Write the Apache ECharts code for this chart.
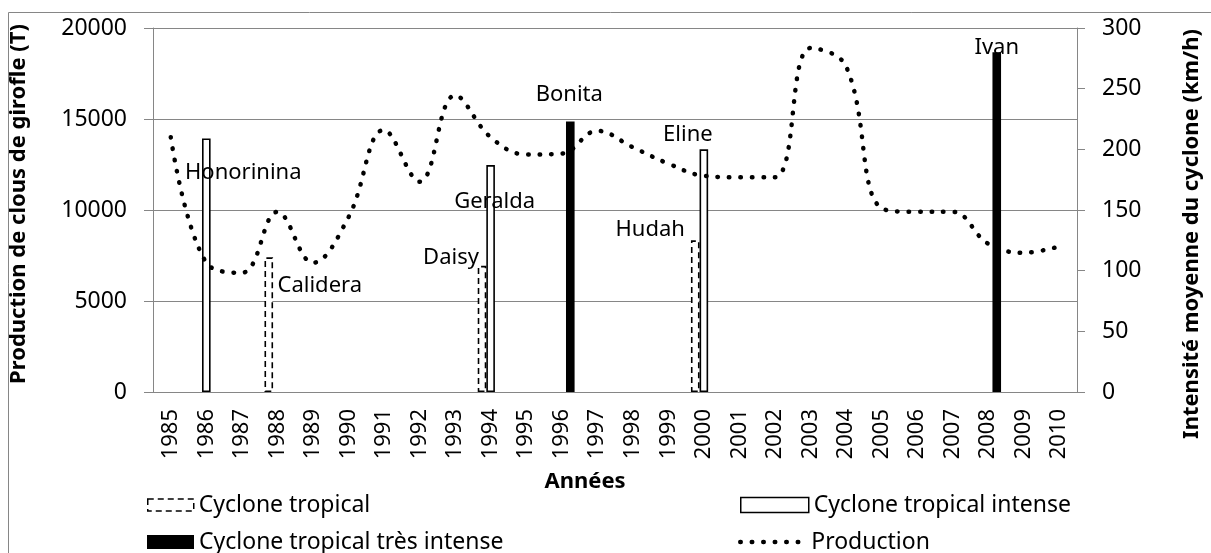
<!DOCTYPE html>
<html>
<head>
<meta charset="utf-8">
<script src="https://cdn.jsdelivr.net/npm/echarts@6/dist/echarts.min.js"></script>
<style>
    html, body { margin: 0; padding: 0; background: #fff; }
    #chart { width: 1211px; height: 553px; }
</style>
</head>
<body>
<div id="chart"></div>
<script>
const years = ['1985', '1986', '1987', '1988', '1989', '1990', '1991', '1992', '1993', '1994',
    '1995', '1996', '1997', '1998', '1999', '2000', '2001', '2002', '2003', '2004',
    '2005', '2006', '2007', '2008', '2009', '2010'];
// production de clous de girofle (T)
const production = [14000, 7100, 6550, 9900, 7100, 9600, 14400, 11550, 16300, 14000,
    13050, 13100, 14350, 13450, 12550, 11880, 11800, 11800, 18900, 17900,
    10100, 9900, 9900, 8150, 7650, 8000];

// intensité moyenne (km/h) par catégorie de cyclone
const tropicalYears = ['1988', '1994', '2000'];
const tropicalNames = ['Calidera', 'Daisy', 'Hudah'];
const tropicalSpeed = [111, 104, 125];

const intenseYears = ['1986', '1994', '2000'];
const intenseNames = ['Honorinina', 'Geralda', 'Eline'];
const intenseSpeed = [209, 187, 200];

const veryIntenseYears = ['1996', '2008'];
const veryIntenseNames = ['Bonita', 'Ivan'];
const veryIntenseSpeed = [223, 280];

// where each name label sits relative to the top of its bar
const labelOffsets = {
    Honorinina: [37, 34], Calidera: [51, 28], Daisy: [-31, -8], Hudah: [-45, -11],
    Geralda: [4, 37], Eline: [-16, -15], Bonita: [-1, -27], Ivan: [0, -5]
};

const FONT = 'Noto Sans';
const GRAY = '#868686';
const DASH = [6, 4];

function barData(yrs, names, speeds) {
    return years.map(y => {
        const i = yrs.indexOf(y);
        if (i < 0) return '-';
        return {
            value: speeds[i],
            name: names[i],
            label: {offset: labelOffsets[names[i]]}
        };
    });
}

const barLabel = {
    show: true,
    position: 'top',
    distance: 0,
    verticalAlign: 'middle',
    formatter: p => p.data.name,
    color: '#000',
    fontFamily: FONT,
    fontSize: 22
};

const legendText = {fontFamily: FONT, fontSize: 23, color: '#000', lineHeight: 26};

function oneLegend(name, left, top, width, height, extra) {
    return Object.assign({
        left: left, top: top,
        itemWidth: width, itemHeight: height,
        textStyle: legendText,
        selectedMode: false,
        data: [name]
    }, extra || {});
}

const chart = echarts.init(document.getElementById('chart'), null, {renderer: 'canvas'});

chart.setOption({
    animation: false,
    textStyle: {fontFamily: FONT},
    grid: {left: 153, right: 125, top: 28, bottom: 161},
    graphic: [{
        type: 'rect',
        shape: {x: 8.5, y: 12.5, width: 1215, height: 560},
        style: {fill: 'none', stroke: GRAY, lineWidth: 1},
        silent: true
    }],
    legend: [
        oneLegend('Cyclone tropical', 142, 487, 46, 12, {
            icon: 'rect',
            itemStyle: {color: '#fff', borderColor: '#000', borderWidth: 1.5, borderType: DASH}
        }),
        oneLegend('Cyclone tropical très intense', 142, 524, 47, 14, {icon: 'rect'}),
        oneLegend('Cyclone tropical intense', 735, 487, 68, 15, {
            icon: 'rect',
            itemStyle: {color: '#fff', borderColor: '#000', borderWidth: 1.5}
        }),
        oneLegend('Production', 733, 524, 66, 14, {
            itemStyle: {color: 'rgba(0,0,0,0)', borderWidth: 0},
            lineStyle: {color: '#000', width: 4.5, type: [0.5, 11], cap: 'round'}
        })
    ],
    xAxis: {
        type: 'category',
        data: years,
        name: 'Années',
        nameLocation: 'middle',
        nameGap: 79,
        nameTextStyle: {fontFamily: FONT, fontSize: 22, fontWeight: 'bold', color: '#000', padding: [0, 60, 0, 0]},
        axisLine: {lineStyle: {color: GRAY, width: 1}},
        axisTick: {length: 8, lineStyle: {color: GRAY}},
        axisLabel: {rotate: 90, margin: 17, color: '#000', fontFamily: FONT, fontSize: 22, interval: 0}
    },
    yAxis: [{
        type: 'value',
        min: 0, max: 20000, interval: 5000,
        name: 'Production de clous de girofle (T)',
        nameLocation: 'middle',
        nameGap: 123,
        nameRotate: 90,
        nameTextStyle: {fontFamily: FONT, fontSize: 22, fontWeight: 'bold', color: '#000', padding: [0, 0, 0, 12]},
        axisLine: {show: true, lineStyle: {color: GRAY, width: 1}},
        axisTick: {show: true, length: 9, lineStyle: {color: GRAY}},
        axisLabel: {margin: 26, color: '#000', fontFamily: FONT, fontSize: 23, formatter: v => String(v)},
        splitLine: {lineStyle: {color: GRAY, width: 1}}
    }, {
        type: 'value',
        min: 0, max: 300, interval: 50,
        name: 'Intensité moyenne du cyclone (km/h)',
        nameLocation: 'middle',
        nameGap: 104,
        nameRotate: 90,
        nameTextStyle: {fontFamily: FONT, fontSize: 22, fontWeight: 'bold', color: '#000', padding: [0, 48, 0, 0]},
        axisLine: {show: true, lineStyle: {color: GRAY, width: 1}},
        axisTick: {show: true, length: 8, lineStyle: {color: GRAY}},
        axisLabel: {margin: 25, color: '#000', fontFamily: FONT, fontSize: 23, formatter: v => String(v)},
        splitLine: {show: false}
    }],
    series: [{
        name: 'Cyclone tropical',
        type: 'bar',
        yAxisIndex: 1,
        barWidth: 8.6,
        barGap: '0%',
        itemStyle: {color: '#fff', borderColor: '#000', borderWidth: 1.6, borderType: DASH},
        label: barLabel,
        data: barData(tropicalYears, tropicalNames, tropicalSpeed)
    }, {
        name: 'Cyclone tropical intense',
        type: 'bar',
        yAxisIndex: 1,
        barWidth: 8.6,
        barGap: '0%',
        itemStyle: {color: '#fff', borderColor: '#000', borderWidth: 1.6},
        label: barLabel,
        data: barData(intenseYears, intenseNames, intenseSpeed)
    }, {
        name: 'Cyclone tropical très intense',
        type: 'bar',
        yAxisIndex: 1,
        barWidth: 8.6,
        barGap: '0%',
        itemStyle: {color: '#000'},
        label: barLabel,
        data: barData(veryIntenseYears, veryIntenseNames, veryIntenseSpeed)
    }, {
        name: 'Production',
        type: 'line',
        yAxisIndex: 0,
        smooth: 0.4,
        symbol: 'none',
        lineStyle: {color: '#000', width: 4.5, type: [0.5, 11], cap: 'round'},
        itemStyle: {color: '#000'},
        data: production,
        z: 5
    }]
});
</script>
</body>
</html>
